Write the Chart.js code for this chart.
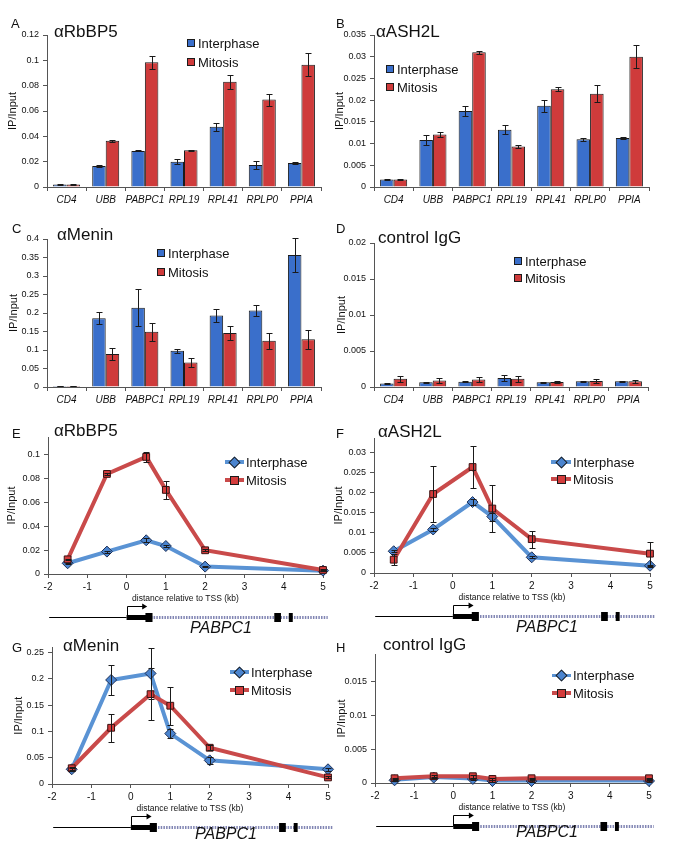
<!DOCTYPE html>
<html><head><meta charset="utf-8">
<script src="https://cdn.jsdelivr.net/npm/chart.js@4/dist/chart.umd.min.js"></script>
<style>
html,body{margin:0;padding:0;background:#fff;}
body{width:674px;height:855px;position:relative;overflow:hidden;font-family:"Liberation Sans",Arial,sans-serif;}
canvas{position:absolute;}
.t{position:absolute;white-space:nowrap;line-height:1;color:#111;}
.sw{position:absolute;width:6px;height:6px;border:1px solid #1b1b1b;}
.ln{position:absolute;height:4px;}
.mk{position:absolute;width:7px;height:7px;border:1px solid #1b1b1b;}
</style></head><body>
<script>
// ---------- DATA ----------
const genes = ['CD4','UBB','PABPC1','RPL19','RPL41','RPLP0','PPIA'];

const aInter    = [0.0020,0.0165,0.0285,0.0200,0.0475,0.0173,0.0190];
const aInterErr = [0.0003,0.0007,0.0004,0.0018,0.0030,0.0030,0.0010];
const aMito     = [0.0020,0.0365,0.0985,0.0290,0.0830,0.0690,0.0966];
const aMitoErr  = [0.0003,0.0008,0.0050,0.0003,0.0055,0.0047,0.0092];

const bInter    = [0.0017,0.0108,0.0175,0.0132,0.0187,0.0110,0.0113];
const bInterErr = [0.0001,0.0012,0.0011,0.0010,0.0014,0.0003,0.0003];
const bMito     = [0.0017,0.0121,0.0310,0.0093,0.0225,0.0215,0.0300];
const bMitoErr  = [0.0001,0.0005,0.0004,0.0004,0.0005,0.0019,0.0026];

const cInter    = [0.003,0.186,0.214,0.098,0.193,0.207,0.357];
const cInterErr = [0.001,0.016,0.050,0.006,0.017,0.015,0.046];
const cMito     = [0.003,0.089,0.149,0.066,0.146,0.125,0.129];
const cMitoErr  = [0.001,0.016,0.025,0.012,0.020,0.022,0.026];

const dInter    = [0.00050,0.00065,0.00074,0.00125,0.00065,0.00080,0.00080];
const dInterErr = [0.00010,0.00010,0.00010,0.00040,0.00010,0.00010,0.00010];
const dMito     = [0.00115,0.00090,0.00105,0.00115,0.00070,0.00083,0.00080];
const dMitoErr  = [0.00040,0.00030,0.00030,0.00040,0.00010,0.00030,0.00020];

const positions = [-1.5,-0.5,0.5,1,2,5];   // distance relative to TSS (kb)

const eInter    = [0.0090,0.0188,0.0283,0.0235,0.0062,0.0028];
const eInterErr = [0.0005,0.0008,0.0015,0.0010,0.0005,0.0003];
const eMito     = [0.0123,0.0840,0.0983,0.0706,0.0199,0.0034];
const eMitoErr  = [0.0005,0.0008,0.0045,0.0078,0.0008,0.0005];

const fInter    = [0.0054,0.0108,0.0176,0.0140,0.0039,0.0018];
const fInterErr = [0.0003,0.0003,0.0008,0.0010,0.0003,0.0002];
const fMito     = [0.0033,0.0196,0.0263,0.0160,0.0084,0.0048];
const fMitoErr  = [0.0013,0.0069,0.0053,0.0058,0.0021,0.0030];

const gInter    = [0.028,0.198,0.2105,0.096,0.045,0.028];
const gInterErr = [0.003,0.028,0.049,0.008,0.006,0.003];
const gMito     = [0.030,0.107,0.171,0.149,0.069,0.0125];
const gMitoErr  = [0.003,0.027,0.050,0.036,0.005,0.002];

const hInter    = [0.0004,0.0008,0.0006,0.0003,0.0003,0.0003];
const hInterErr = [0.0001,0.0001,0.0001,0.0001,0.0001,0.0001];
const hMito     = [0.0007,0.0010,0.0010,0.0006,0.0007,0.0007];
const hMitoErr  = [0.0001,0.0002,0.0002,0.0001,0.0001,0.0001];

// gene model of PABPC1 in kb (x-axis units)
const geneUpstream = [-1.97, 0];
const geneUTR      = [0, 0.5];
const geneIntron   = [0.62, 5.12];
const geneExons    = [[0.48,0.66],[3.76,3.93],[4.13,4.23]];
const tssArrow     = [0, 0.5];

const seriesNames = ['Interphase','Mitosis'];

// ---------- STYLE ----------
const FONT = '"Liberation Sans", Arial, sans-serif';
const BAR_BLUE = '#3A6FCB', BAR_RED = '#CF3B3B';
const LINE_BLUE = '#5A93D4', LINE_RED = '#C94A4A';
const PT_BLUE = '#4A84CF', PT_RED = '#D43C3C';
const AXIS = '#555';
Chart.defaults.font.family = FONT;
Chart.defaults.color = '#111';

const errorBars = {
  id:'errorBars',
  afterDatasetsDraw(chart){
    const ctx = chart.ctx, ys = chart.scales.y;
    ctx.save(); ctx.strokeStyle = '#1a1a1a'; ctx.lineWidth = 1;
    chart.data.datasets.forEach((ds,i)=>{
      if(!ds.errors) return;
      const meta = chart.getDatasetMeta(i);
      meta.data.forEach((el,j)=>{
        const raw = ds.data[j]; const v = (typeof raw === 'object') ? raw.y : raw; const e = ds.errors[j];
        if(!e) return;
        const x = Math.round(el.x)+0.5;
        const t = Math.round(ys.getPixelForValue(v+e))+0.5, b = Math.round(ys.getPixelForValue(Math.max(0,v-e)))+0.5;
        ctx.beginPath();
        ctx.moveTo(x,t); ctx.lineTo(x,b);
        ctx.moveTo(x-3,t); ctx.lineTo(x+3,t);
        ctx.moveTo(x-3,b); ctx.lineTo(x+3,b);
        ctx.stroke();
      });
    });
    ctx.restore();
  }
};

const geneModel = {
  id:'geneModel',
  afterDraw(chart){
    const o = chart.options.plugins.geneModel;
    if(!o || !o.show) return;
    const ctx = chart.ctx, xs = chart.scales.x;
    const y = Math.round(chart.chartArea.bottom + o.offset) + 0.5;
    const px = v => xs.getPixelForValue(v);
    ctx.save();
    ctx.strokeStyle = '#8185b3'; ctx.lineWidth = 3; ctx.setLineDash([1.5,1.2]);
    ctx.beginPath(); ctx.moveTo(px(geneIntron[0]),y); ctx.lineTo(px(geneIntron[1]),y); ctx.stroke();
    ctx.setLineDash([]);
    ctx.strokeStyle = '#000'; ctx.lineWidth = 1;
    ctx.beginPath(); ctx.moveTo(px(geneUpstream[0]),y); ctx.lineTo(px(geneUpstream[1]),y); ctx.stroke();
    ctx.fillStyle = '#000';
    ctx.fillRect(px(geneUTR[0]), y-2.5, px(geneUTR[1])-px(geneUTR[0]), 5);
    geneExons.forEach(ex=>{ ctx.fillRect(px(ex[0]), y-4.5, px(ex[1])-px(ex[0]), 9); });
    const ax0 = Math.round(px(tssArrow[0]))+0.5, ax1 = px(tssArrow[1]), ay = y-11;
    ctx.beginPath(); ctx.moveTo(ax0,y); ctx.lineTo(ax0,ay); ctx.lineTo(ax1-3,ay); ctx.stroke();
    ctx.beginPath(); ctx.moveTo(ax1+1,ay); ctx.lineTo(ax1-4,ay-3); ctx.lineTo(ax1-4,ay+3); ctx.closePath(); ctx.fill();
    ctx.restore();
  }
};

function makeCanvas(r){
  const c = document.createElement('canvas');
  c.width = r.w; c.height = r.h;
  c.style.left = r.left+'px'; c.style.top = r.top+'px';
  c.style.width = r.w+'px'; c.style.height = r.h+'px';
  document.body.appendChild(c);
  return c;
}

function yScale(r, a, yMax, step, titleCx){
  return {
    type:'linear', min:0, max:yMax,
    afterFit: s => { s.width = a.x0 - r.left; },
    ticks:{ stepSize:step, includeBounds:false, font:{size:9}, color:'#111', padding:4,
            callback: v => String(+Number(v).toFixed(4)) },
    grid:{ display:true, drawOnChartArea:false, drawTicks:true, tickLength:4, color:AXIS },
    border:{ display:true, color:AXIS, width:1 },
    title:{ display:true, text:'IP/Input', font:{size:11}, color:'#111',
            padding:{ top: titleCx - r.left - 6.6, bottom:0 } }
  };
}

function layoutPad(r, a, xh){
  return { left:0, top:a.y0 - r.top, right:(r.left + r.w) - a.x1, bottom:(r.top + r.h) - a.y1 - xh };
}

function barChart(r, a, yMax, step, titleCx, inter, interErr, mito, mitoErr){
  const xh = 24;
  new Chart(makeCanvas(r), {
    type:'bar',
    data:{ labels:genes, datasets:[
      { label:seriesNames[0], data:inter, errors:interErr, backgroundColor:BAR_BLUE, borderColor:'#1b1b1b', borderWidth:1, categoryPercentage:0.69, barPercentage:1 },
      { label:seriesNames[1], data:mito, errors:mitoErr, backgroundColor:BAR_RED, borderColor:'#1b1b1b', borderWidth:1, categoryPercentage:0.69, barPercentage:1 }
    ]},
    options:{
      responsive:false, animation:false, devicePixelRatio:1,
      layout:{ padding: layoutPad(r,a,xh) },
      plugins:{ legend:{display:false}, tooltip:{enabled:false}, geneModel:{show:false} },
      scales:{
        x:{ type:'category', afterFit: s => { s.height = xh; },
            ticks:{ font:{size:10, style:'italic'}, color:'#111', maxRotation:0, minRotation:0, autoSkip:false, padding:3 },
            grid:{ offset:true, drawOnChartArea:false, drawTicks:true, tickLength:4, color:AXIS },
            border:{ display:true, color:AXIS } },
        y: yScale(r,a,yMax,step,titleCx)
      }
    },
    plugins:[errorBars, geneModel]
  });
}

function lineChart(r, a, yMax, step, titleCx, inter, interErr, mito, mitoErr, lw){
  const xh = 30;
  const pts = vals => positions.map((p,i)=>({x:p, y:vals[i]}));
  new Chart(makeCanvas(r), {
    type:'line',
    data:{ datasets:[
      { label:seriesNames[0], data:pts(inter), errors:interErr, order:1, borderColor:LINE_BLUE, borderWidth:lw[0], tension:0, clip:false,
        pointStyle:'rectRot', pointRadius:5.5, pointBackgroundColor:PT_BLUE, pointBorderColor:'#1d2f55', pointBorderWidth:1 },
      { label:seriesNames[1], data:pts(mito), errors:mitoErr, order:0, borderColor:LINE_RED, borderWidth:lw[1], tension:0, clip:false,
        pointStyle:'rect', pointRadius:4.8, pointBackgroundColor:PT_RED, pointBorderColor:'#3a1212', pointBorderWidth:1 }
    ]},
    options:{
      responsive:false, animation:false, devicePixelRatio:1,
      layout:{ padding: layoutPad(r,a,xh) },
      plugins:{ legend:{display:false}, tooltip:{enabled:false}, geneModel:{show:true, offset:43} },
      scales:{
        x:{ type:'linear', min:-2, max:5, afterFit: s => { s.height = xh; },
            ticks:{ stepSize:1, font:{size:10}, color:'#111', padding:3, maxRotation:0 },
            grid:{ drawOnChartArea:false, drawTicks:true, tickLength:4, color:AXIS },
            border:{ display:true, color:AXIS },
            title:{ display:true, text:'distance relative to TSS (kb)', font:{size:8.5}, color:'#111', padding:{top:0,bottom:0} } },
        y: yScale(r,a,yMax,step,titleCx)
      }
    },
    plugins:[errorBars, geneModel]
  });
}

// ---------- CHARTS ----------
barChart({left:0,top:0,w:335,h:215},   {x0:47,y0:35,x1:321,y1:187},  0.12, 0.02, 12.5, aInter,aInterErr,aMito,aMitoErr);
barChart({left:328,top:0,w:340,h:215}, {x0:374,y0:35,x1:649,y1:187}, 0.035,0.005,340, bInter,bInterErr,bMito,bMitoErr);
barChart({left:0,top:212,w:335,h:212}, {x0:47,y0:239,x1:321,y1:387}, 0.4, 0.05, 14, cInter,cInterErr,cMito,cMitoErr);
barChart({left:328,top:212,w:340,h:212},{x0:374,y0:243,x1:648,y1:387},0.02,0.005,342, dInter,dInterErr,dMito,dMitoErr);

lineChart({left:0,top:425,w:335,h:215},  {x0:48,y0:437,x1:323,y1:574},  0.115, 0.02, 12, eInter,eInterErr,eMito,eMitoErr,[4,4]);
lineChart({left:328,top:425,w:340,h:215},{x0:374,y0:438,x1:650,y1:573}, 0.0335,0.005,339, fInter,fInterErr,fMito,fMitoErr,[4,4]);
lineChart({left:0,top:638,w:340,h:217},  {x0:52,y0:646,x1:328,y1:784},  0.26, 0.05, 19, gInter,gInterErr,gMito,gMitoErr,[4,4]);
lineChart({left:328,top:638,w:340,h:217},{x0:375,y0:654,x1:649,y1:783}, 0.019,0.005,342, hInter,hInterErr,hMito,hMitoErr,[3,4]);

// ---------- TEXT OVERLAYS ----------
function txt(s, left, cy, size, italic, center){
  const d = document.createElement('div'); d.className='t'; d.textContent = s;
  d.style.left = left+'px'; d.style.top = (cy - size/2)+'px'; d.style.fontSize = size+'px';
  if(italic) d.style.fontStyle='italic';
  if(center) d.style.transform='translateX(-50%)';
  document.body.appendChild(d);
}
function box(cls, left, top, w, h, bg, extra){
  const d = document.createElement('div'); d.className = cls;
  d.style.left = left+'px'; d.style.top = top+'px';
  if(w!=null) d.style.width = w+'px'; if(h!=null) d.style.height = h+'px';
  d.style.background = bg; if(extra) Object.assign(d.style, extra);
  document.body.appendChild(d);
}
function barLegend(sx, tx, cy1, cy2){
  box('sw', sx, cy1-4, null, null, BAR_BLUE); txt(seriesNames[0], tx, cy1, 13);
  box('sw', sx, cy2-4, null, null, BAR_RED);  txt(seriesNames[1], tx, cy2, 13);
}
function lineLegend(x0, x1, tx, cy1, cy2, lw){
  const mid = (x0+x1)/2;
  box('ln', x0, cy1-lw[0]/2, x1-x0, lw[0], LINE_BLUE);
  box('mk', mid-4.5, cy1-4.5, null, null, PT_BLUE, {transform:'rotate(45deg) scale(0.95)'});
  txt(seriesNames[0], tx, cy1, 13);
  box('ln', x0, cy2-2, x1-x0, lw[1], LINE_RED);
  box('mk', mid-4.5, cy2-4.5, null, null, PT_RED);
  txt(seriesNames[1], tx, cy2, 13);
}

const panelLetters = ['A','B','C','D','E','F','G','H'];
const panelTitles  = ['αRbBP5','αASH2L','αMenin','control IgG','αRbBP5','αASH2L','αMenin','control IgG'];
const geneName = 'PABPC1';

txt(panelLetters[0], 11, 23, 13);  txt(panelTitles[0], 54, 31, 17);
txt(panelLetters[1], 336, 23, 13); txt(panelTitles[1], 376, 31, 17);
txt(panelLetters[2], 12, 228, 13); txt(panelTitles[2], 57, 234, 17);
txt(panelLetters[3], 336, 228, 13);txt(panelTitles[3], 378, 237, 17);
txt(panelLetters[4], 12, 433, 13); txt(panelTitles[4], 54, 430, 17);
txt(panelLetters[5], 336, 433, 13);txt(panelTitles[5], 378, 431, 17);
txt(panelLetters[6], 12, 647, 13); txt(panelTitles[6], 63, 645, 17);
txt(panelLetters[7], 336, 647, 13);txt(panelTitles[7], 383, 644, 17);

barLegend(187, 198, 43, 62);
barLegend(386, 397, 69, 87);
barLegend(157, 168, 253, 272);
barLegend(514, 525, 261, 278);

lineLegend(225, 244, 246, 462, 480, [4,4]);
lineLegend(551, 571, 573, 462, 479, [4,4]);
lineLegend(230, 249, 251, 672, 690, [4,4]);
lineLegend(552, 571, 573, 675, 693, [3,4]);

txt(geneName, 221, 628, 16, true, true);
txt(geneName, 547, 627, 16, true, true);
txt(geneName, 226, 834, 16, true, true);
txt(geneName, 547, 832, 16, true, true);
</script>
</body></html>
